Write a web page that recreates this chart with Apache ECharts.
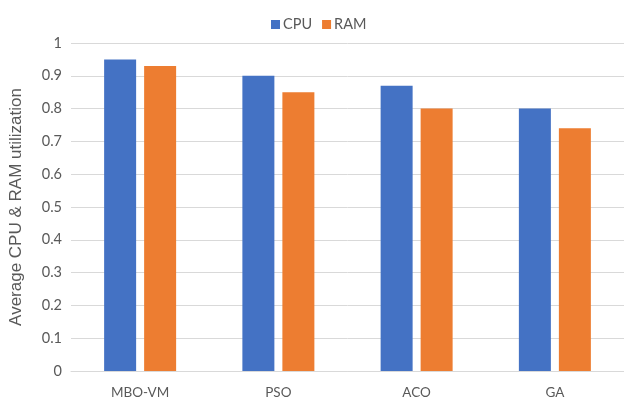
<!DOCTYPE html>
<html>
<head>
<meta charset="utf-8">
<script src="https://cdn.jsdelivr.net/npm/echarts@6/dist/echarts.min.js"></script>
<style>
  html, body { margin: 0; padding: 0; background: #fff; }
  #chart { width: 624px; height: 405px; }
</style>
</head>
<body>
<div id="chart"></div>
<script>
// Algorithms compared
const categories = ['MBO-VM', 'PSO', 'ACO', 'GA'];
// Average utilization per algorithm
const cpuValues = [0.95, 0.90, 0.87, 0.80];
const ramValues = [0.93, 0.85, 0.80, 0.74];
// Value axis ticks
const yTicks = [0, 0.1, 0.2, 0.3, 0.4, 0.5, 0.6, 0.7, 0.8, 0.9, 1];

const textColor = '#595959';
const fontFamily = 'Lato, "Open Sans", sans-serif';

const chart = echarts.init(document.getElementById('chart'), null, { renderer: 'canvas' });
chart.setOption({
  animation: false,
  backgroundColor: '#ffffff',
  textStyle: { fontFamily: fontFamily },
  legend: {
    left: 266,
    top: 12,
    icon: 'rect',
    itemWidth: 9,
    itemHeight: 9,
    itemGap: 10,
    textStyle: { color: textColor, fontSize: 14.5, fontFamily: fontFamily, padding: [0, 0, 0, -2] },
    data: ['CPU', 'RAM']
  },
  grid: { left: 70, top: 43, width: 560, bottom: 34, containLabel: false },
  xAxis: {
    type: 'category',
    data: categories,
    axisLine: { show: true, lineStyle: { color: '#d9d9d9', width: 1 } },
    axisTick: { show: false },
    axisLabel: { color: textColor, fontSize: 13.5, margin: 15, fontFamily: fontFamily }
  },
  yAxis: {
    type: 'value',
    min: yTicks[0],
    max: yTicks[yTicks.length - 1],
    interval: 0.1,
    name: 'Average CPU & RAM utilization',
    nameLocation: 'middle',
    nameGap: 46,
    nameTextStyle: { color: textColor, fontSize: 17, fontFamily: '"Liberation Sans", Arial, sans-serif' },
    axisLine: { show: false },
    axisTick: { show: false },
    splitLine: { lineStyle: { color: '#d9d9d9', width: 1 } },
    axisLabel: {
      color: textColor,
      fontSize: 14.5,
      margin: 9,
      fontFamily: fontFamily,
      formatter: function (v) { return String(Math.round(v * 10) / 10); }
    }
  },
  series: [
    {
      name: 'CPU',
      type: 'bar',
      data: cpuValues,
      barWidth: 32,
      barGap: '25%',
      itemStyle: { color: '#4472c4' }
    },
    {
      name: 'RAM',
      type: 'bar',
      data: ramValues,
      barWidth: 32,
      itemStyle: { color: '#ed7d31' }
    }
  ]
});
</script>
</body>
</html>
